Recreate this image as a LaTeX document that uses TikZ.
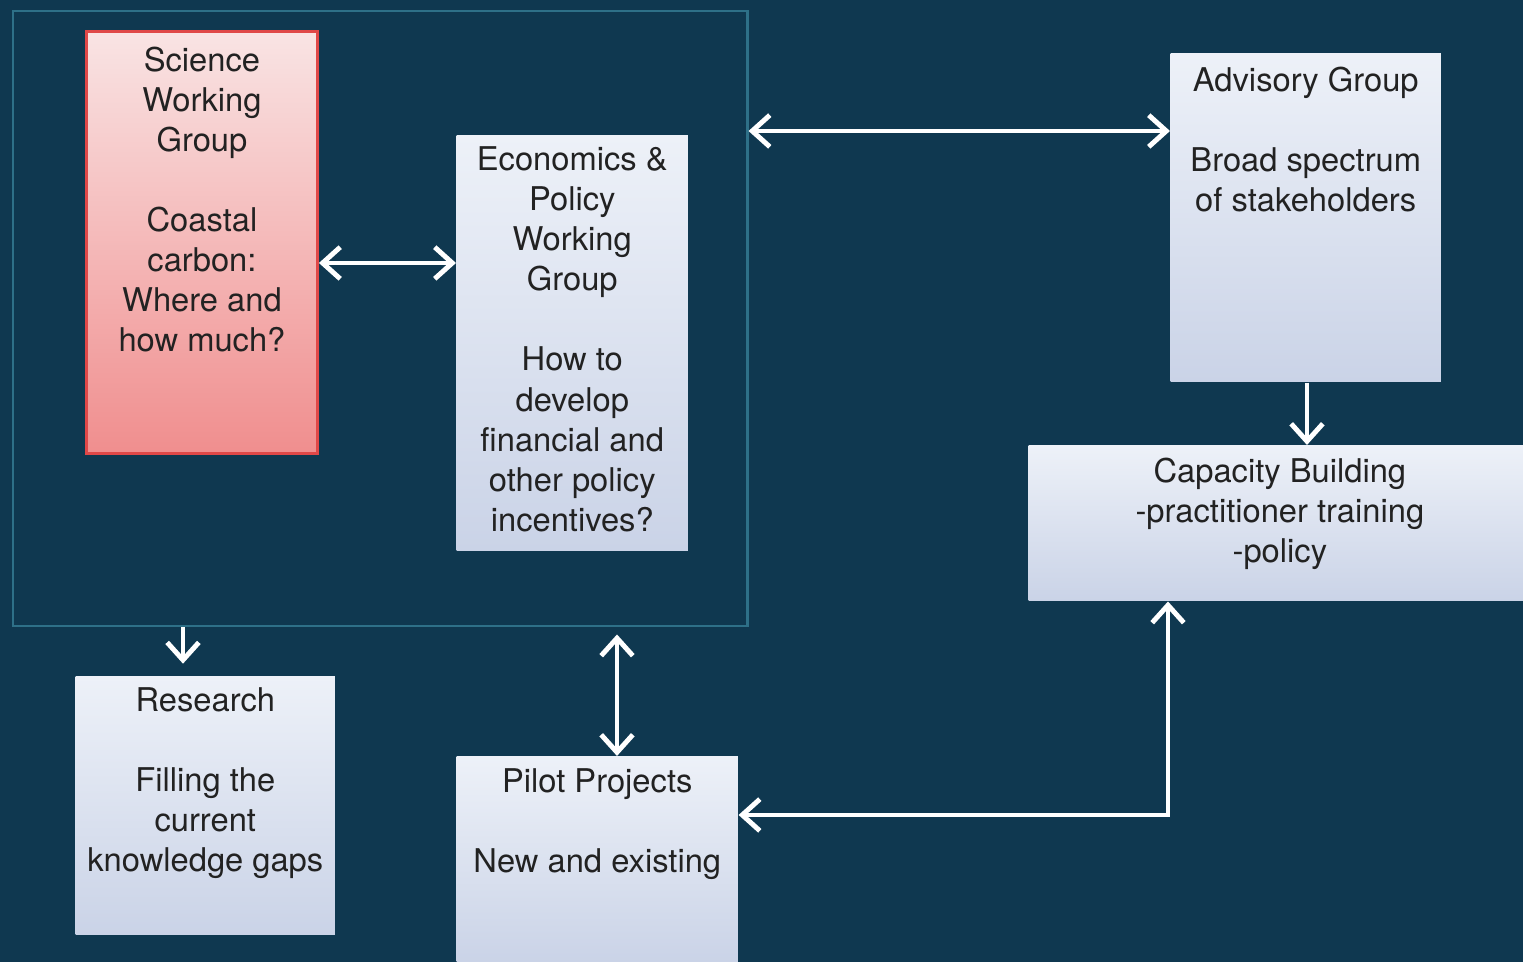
\documentclass[tikz,border=0pt]{standalone}
\usepackage{fontspec}
\setmainfont{TeX Gyre Heros}
\usetikzlibrary{arrows.meta,positioning}
\definecolor{deepsea}{HTML}{0F3850}
\definecolor{frameline}{HTML}{2E7088}
\definecolor{boxtop}{HTML}{EDF1F8}
\definecolor{boxbot}{HTML}{CAD3E7}
\definecolor{pinktop}{HTML}{F9E4E4}
\definecolor{pinkbot}{HTML}{F08E8E}
\definecolor{pinkline}{HTML}{E04848}
\definecolor{inkgray}{HTML}{222222}

\begin{document}
\begin{tikzpicture}[x=0.01cm, y=-0.01cm, >={Straight Barb[length=5pt,width=9pt]},
  wbox/.style={rectangle, inner sep=0pt, anchor=north west, top color=boxtop, bottom color=boxbot},
  pbox/.style={rectangle, inner sep=0pt, anchor=north west, top color=pinktop, bottom color=pinkbot, draw=pinkline, line width=0.8pt},
  txt/.style={inner sep=0pt, anchor=north, align=center, text=inkgray, font=\fontsize{9.3}{11.4}\selectfont},
  link/.style={draw=white, line width=1.4pt}]
\useasboundingbox (0,0) rectangle (1523,962);
\fill [deepsea] (0,0) rectangle (1523,962);

\begin{scope}
  \node [draw=frameline, line width=0.6pt, inner sep=0pt, anchor=north west, minimum width=7.34cm, minimum height=6.15cm, name=core] at (12,10) {};
  \node [pbox, minimum width=2.31cm, minimum height=4.22cm, name=sci] at (85,30) {};
  \node [txt, below=0.16cm of sci.north, name=scitxt] {Science\\Working\\Group\\[11.4pt]Coastal\\carbon:\\Where and\\how much?};
  \node [wbox, minimum width=2.31cm, minimum height=4.15cm, name=eco] at (456,135) {};
  \node [txt, below=0.11cm of eco.north, name=ecotxt] {Economics \&\\Policy\\Working\\Group\\[11.4pt]How to\\develop\\financial and\\other policy\\incentives?};
\end{scope}

\begin{scope}
  \node [wbox, minimum width=2.70cm, minimum height=3.28cm, name=adv] at (1170,53) {};
  \node [txt, below=0.13cm of adv.north, name=advtxt] {Advisory Group\\[11.4pt]Broad spectrum\\of stakeholders};
  \node [wbox, minimum width=4.95cm, minimum height=1.55cm, name=cap] at (1028,445) {};
  \node [txt, below=0.12cm of cap.north, xshift=1pt, name=captxt] {Capacity Building\\-practitioner training\\-policy};
\end{scope}

\begin{scope}
  \node [wbox, minimum width=2.59cm, minimum height=2.58cm, name=res] at (75,676) {};
  \node [txt, below=0.11cm of res.north, name=restxt] {Research\\[11.4pt]Filling the\\current\\knowledge gaps};
  \node [wbox, minimum width=2.81cm, minimum height=2.06cm, name=pil] at (456,756) {};
  \node [txt, below=0.12cm of pil.north, name=piltxt] {Pilot Projects\\[11.4pt]New and existing};
\end{scope}

\draw [link,<->] (sci.east |- 0,263) -- (eco.west |- 0,263);
\draw [link,<->] (core.east |- 0,131) -- (adv.west |- 0,131);
\draw [link,->] (adv.south -| 1307,0) -- (cap.north -| 1307,0);
\draw [link,->,shorten >=3.5pt] (core.south -| 183,0) -- (res.north -| 183,0);
\draw [link,<->,shorten <=2pt] (core.south -| 617,0) -- (pil.north -| 617,0);
\draw [link,<->] (cap.south -| 1168,0) |- (pil.east |- 0,815);
\end{tikzpicture}
\end{document}
